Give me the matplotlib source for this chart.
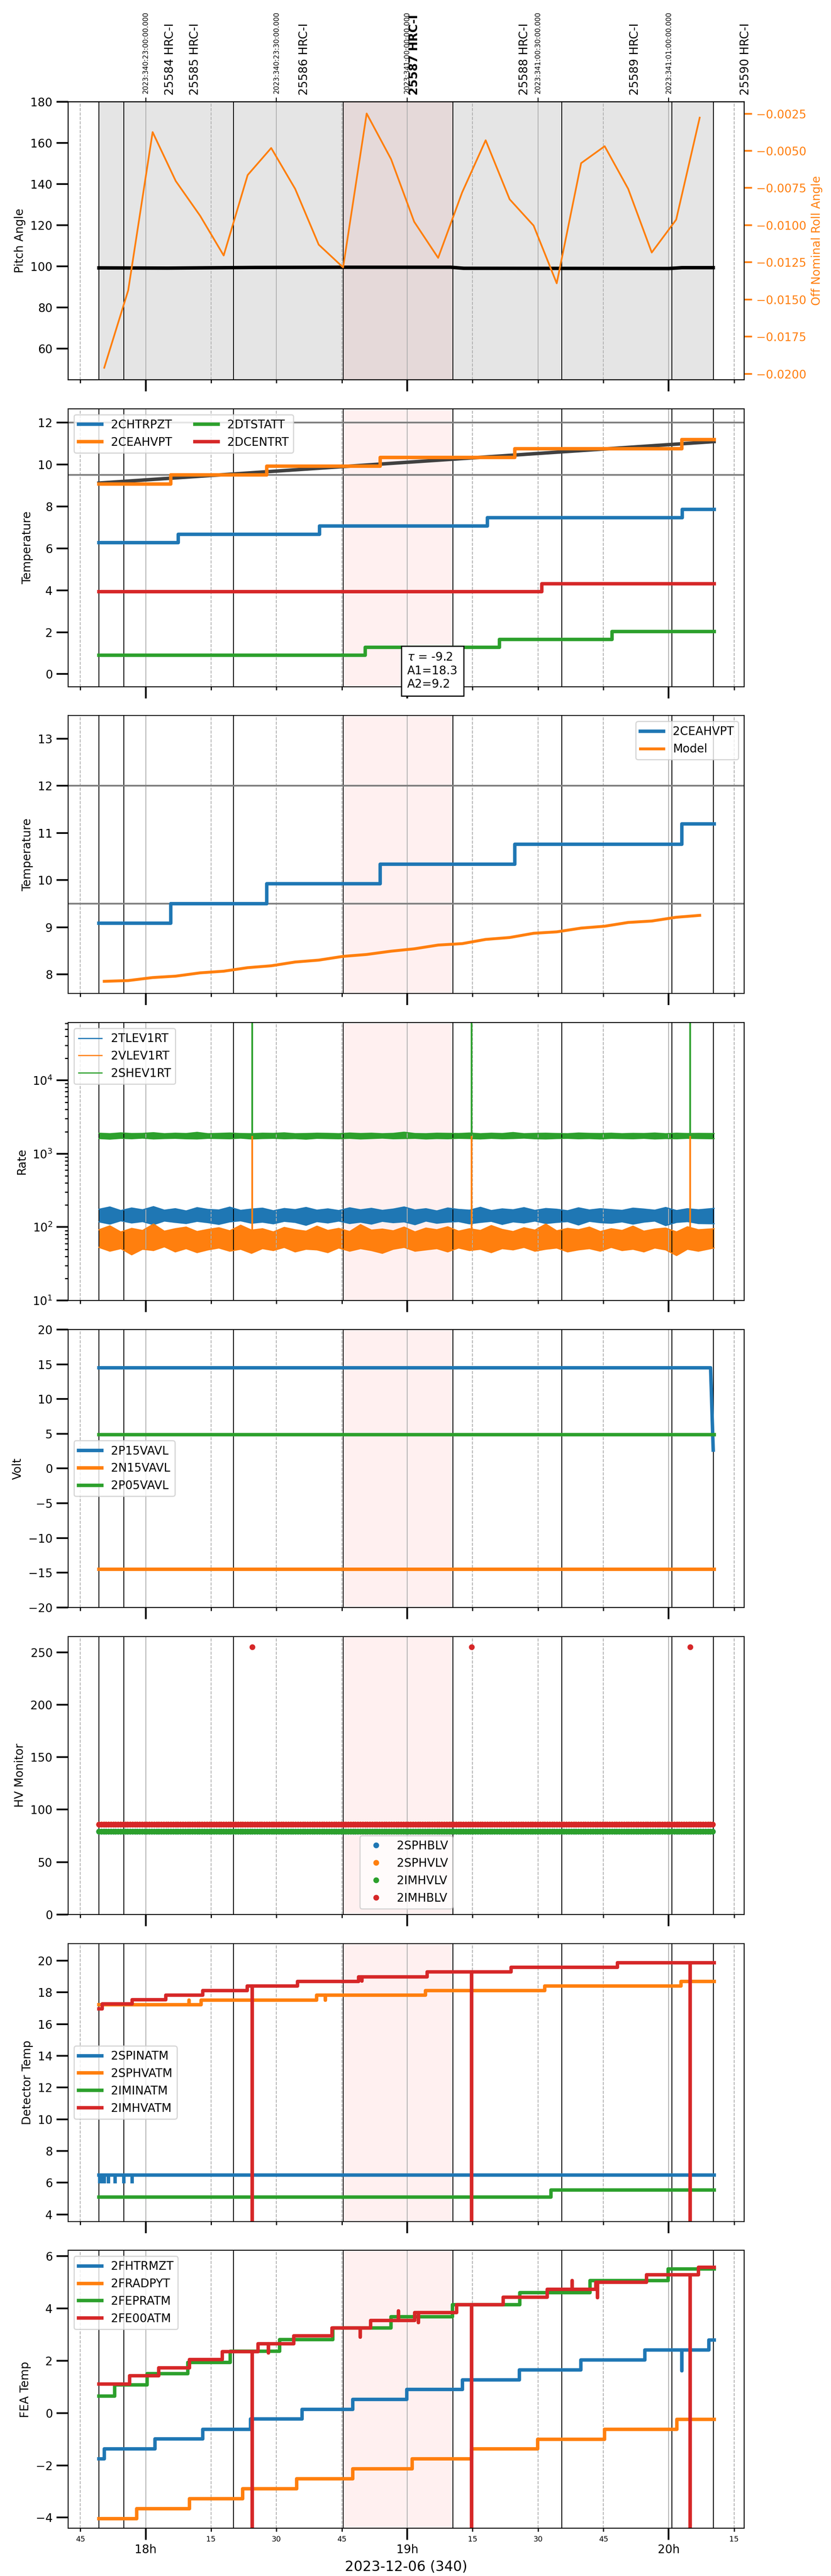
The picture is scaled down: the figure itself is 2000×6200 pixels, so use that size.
import numpy as np
import matplotlib.pyplot as plt
import matplotlib.dates as mdates
from matplotlib.ticker import MultipleLocator

# time is given in minutes after 2023-12-06 18:00 (local)
T0 = mdates.date2num(np.datetime64('2023-12-06T18:00:00'))


def tx(minutes):
    return T0 + np.asarray(minutes, dtype=float) / 1440.0


t_first, t_last = -10.72, 130.4

# observations
obs_edges = [-10.72, -5.0, 20.16, 45.3, 70.5, 95.5, 120.7, 130.2]
obsids = ['25584', '25585', '25586', '25587', '25588', '25589', '25590']
obs_label_t = [5.6, 11.25, 36.4, 61.6, 86.9, 112.2, 137.6]
current_obs = '25587'
utc_tick_t = [0, 30, 60, 90, 120]
utc_tick_labels = ['2023:340:23:00:00.000', '2023:340:23:30:00.000',
                   '2023:341:00:00:00.000', '2023:341:00:30:00.000',
                   '2023:341:01:00:00.000']

# pitch / roll
pitch_t = [-10.72, 5, 25, 45, 70, 73, 120, 123, 130.2]
pitch = [99.3, 99.2, 99.5, 99.6, 99.6, 99.1, 99.0, 99.4, 99.4]
samp_t = [-9.5, -4.0, 1.6, 6.9, 12.5, 17.9, 23.4, 28.8, 34.3, 39.7, 45.3, 50.7, 56.3,
          61.6, 67.1, 72.6, 78.0, 83.5, 89.0, 94.3, 99.9, 105.3, 110.7, 116.1, 121.7, 127.1]
roll = [-0.01959, -0.01438, -0.00374, -0.00703, -0.00937, -0.01204, -0.00663, -0.00481,
        -0.00756, -0.01131, -0.01284, -0.00249, -0.00556, -0.00977, -0.0122, -0.0078,
        -0.00429, -0.00826, -0.01003, -0.01391, -0.00583, -0.00469, -0.00756, -0.01184,
        -0.00963, -0.00277]

# temperatures (step changes)
chtrpzt_chg = [7.51, 39.85, 78.40, 123.1]
chtrpzt_lvl = [6.27, 6.67, 7.07, 7.47, 7.87]
ceahvpt_chg = [5.81, 27.75, 53.83, 84.65, 123.0]
ceahvpt_lvl = [9.08, 9.5, 9.92, 10.34, 10.76, 11.19]
dtstatt_chg = [50.4, 81.2, 107.0]
dtstatt_lvl = [0.9, 1.28, 1.66, 2.03]
dcentrt_chg = [90.9]
dcentrt_lvl = [3.93, 4.31]
fit_t = [-10.72, 130.4]
fit_v = [9.12, 11.1]
fit_text = '$\\tau$ = -9.2\nA1=18.3\nA2=9.2'
model = [7.85, 7.866, 7.93, 7.96, 8.03, 8.065, 8.14, 8.18, 8.26, 8.30, 8.38, 8.42, 8.49,
         8.54, 8.62, 8.65, 8.74, 8.78, 8.87, 8.90, 8.98, 9.02, 9.10, 9.13, 9.21, 9.25]

# rates (envelope of the noisy traces)
rate_t = [-10.72, -8.2, -5.7, -3.2, -0.7, 1.8, 4.3, 6.8, 9.3, 11.8,
          14.3, 16.8, 19.3, 21.8, 24.3, 26.8, 29.3, 31.8, 34.3, 36.8,
          39.3, 41.8, 44.3, 46.8, 49.3, 51.8, 54.3, 56.8, 59.3, 61.8,
          64.3, 66.8, 69.3, 71.8, 74.3, 76.8, 79.3, 81.8, 84.3, 86.8,
          89.3, 91.8, 94.3, 96.8, 99.3, 101.8, 104.3, 106.8, 109.3, 111.8,
          114.3, 116.8, 119.3, 121.8, 124.3, 126.8, 130.4]
tlev_hi = [175, 188, 168, 182, 172, 190, 170, 178, 166, 184,
           174, 171, 187, 169, 176, 181, 167, 179, 173, 185,
           170, 177, 168, 183, 172, 180, 169, 176, 188, 171,
           178, 166, 182, 174, 170, 186, 168, 177, 172, 184,
           169, 179, 175, 167, 183, 171, 178, 173, 169, 181,
           176, 170, 185, 168, 178, 172, 180]
tlev_lo = [118, 110, 122, 114, 119, 108, 121, 116, 112, 120,
           115, 109, 118, 122, 113, 117, 111, 120, 116, 106,
           119, 114, 121, 112, 117, 110, 120, 115, 118, 108,
           121, 113, 117, 119, 111, 116, 120, 109, 118, 114,
           121, 112, 116, 119, 107, 120, 115, 113, 118, 110,
           117, 121, 105, 116, 119, 112, 111]
vlev_hi = [92, 104, 86, 96, 90, 110, 88, 95, 100, 87,
           93, 98, 89, 106, 91, 95, 86, 99, 92, 88,
           103, 90, 96, 87, 108, 91, 94, 89, 100, 86,
           97, 92, 101, 88, 95, 90, 105, 93, 87, 98,
           91, 110, 89, 96, 92, 100, 87, 95, 90, 103,
           88, 94, 97, 86, 101, 92, 95]
vlev_lo = [53, 47, 51, 42, 50, 48, 54, 46, 51, 45,
           49, 52, 47, 50, 44, 51, 48, 53, 46, 50,
           49, 45, 52, 47, 51, 48, 44, 50, 53, 47,
           49, 51, 46, 52, 48, 50, 45, 51, 49, 53,
           47, 50, 52, 46, 49, 51, 47, 53, 48, 50,
           46, 52, 49, 41, 50, 47, 52]
shev_hi = [1900, 1870, 1920, 1880, 1890, 1930, 1870, 1900, 1880, 1950,
           1870, 1890, 1910, 1880, 1870, 1900, 1890, 1920, 1870, 1880,
           1900, 1890, 1870, 1910, 1880, 1900, 1870, 1890, 1960, 1880,
           1870, 1900, 1890, 1880, 1910, 1870, 1900, 1880, 1940, 1870,
           1890, 1900, 1880, 1870, 1910, 1890, 1880, 1900, 1870, 1890,
           1880, 1910, 1870, 1900, 1880, 1890, 1880]
shev_lo = [1610, 1580, 1620, 1600, 1630, 1590, 1610, 1620, 1600, 1590,
           1620, 1610, 1600, 1630, 1590, 1610, 1620, 1600, 1610, 1580,
           1620, 1610, 1600, 1620, 1590, 1610, 1630, 1600, 1610, 1620,
           1590, 1610, 1600, 1620, 1610, 1590, 1620, 1600, 1610, 1630,
           1600, 1590, 1610, 1620, 1600, 1610, 1590, 1620, 1610, 1600,
           1620, 1590, 1610, 1600, 1620, 1610, 1600]
spike_t = [24.41, 74.75, 124.95]

# voltages
p15_t = [-10.72, 129.6, 130.2]
p15 = [14.5, 14.5, 2.65]
n15 = -14.5
p05 = 4.85

# HV monitors
hv_levels = {'2SPHBLV': 79, '2SPHVLV': 86, '2IMHVLV': 79, '2IMHBLV': 86}
hv_bad = 255

# detector temps
spinatm_lvl = [6.48]
spinatm_dips = [-10.5, -10.0, -9.5, -8.5, -7.0, -5.0, -3.1]
spinatm_dip_v = 5.96
sphvatm_chg = [12.74, 39.25, 64.17, 91.52, 122.8]
sphvatm_lvl = [17.22, 17.52, 17.81, 18.1, 18.4, 18.69]
sphvatm_glitch = [(9.95, 17.5), (41.19, 17.5)]
iminatm_chg = [92.98]
iminatm_lvl = [5.08, 5.55]
imhvatm_chg = [-9.99, -3.06, 4.60, 13.11, 23.32, 34.87, 48.85, 64.54, 83.87, 108.2]
imhvatm_lvl = [16.97, 17.26, 17.54, 17.83, 18.1, 18.4, 18.69, 18.98, 19.28, 19.57, 19.87]
imhvatm_glitch = [(49.58, 18.7)] + [(s, -10) for s in spike_t]

# FEA temps
fhtrmzt_chg = [-9.5, 2.16, 13.11, 24.05, 35.84, 47.5, 59.9, 72.68, 85.7, 99.8, 114.5, 129.2]
fhtrmzt_lvl = [-1.75, -1.38, -0.99, -0.62, -0.23, 0.14, 0.52, 0.89, 1.27, 1.65, 2.02, 2.4, 2.78]
fhtrmzt_glitch = [(123.0, 1.62)]
fradpyt_chg = [-2.1, 10.07, 22.23, 34.63, 47.5, 61.12, 74.75, 89.94, 105.3, 121.9]
fradpyt_lvl = [-4.04, -3.66, -3.28, -2.9, -2.52, -2.14, -1.76, -1.38, -1.0, -0.62, -0.24]
fepratm_chg = [-7.07, 0.34, 9.7, 19.43, 30.73, 42.9, 56.26, 70.37, 85.8, 101.98, 119.85]
fepratm_lvl = [0.645, 1.07, 1.5, 1.93, 2.36, 2.8, 3.24, 3.68, 4.14, 4.59, 5.06, 5.5]
fe00atm_chg = [-3.67, 3.02, 10.07, 17.6, 25.75, 34.0, 42.77, 51.65, 61.73, 71.34, 82.04,
               92.13, 103.3, 114.9, 126.8]
fe00atm_lvl = [1.11, 1.42, 1.73, 2.04, 2.34, 2.64, 2.95, 3.24, 3.53, 3.84, 4.13, 4.42,
               4.72, 5.0, 5.28, 5.57]
fe00atm_glitch = [(28.18, 2.3), (49.2, 2.9), (57.97, 3.9), (62.6, 3.45), (97.84, 5.05),
                  (103.7, 4.4)] + [(s, -20) for s in spike_t]


def steps(changes, levels, glitches=()):
    x, y = [t_first], [levels[0]]
    for c, lo, hi in zip(changes, levels[:-1], levels[1:]):
        x += [c, c]
        y += [lo, hi]
    x.append(t_last)
    y.append(levels[-1])
    for gt, gv in glitches:
        lvl = levels[np.searchsorted(changes, gt)]
        i = int(np.searchsorted(x, gt, side='right'))
        x[i:i] = [gt, gt, gt]
        y[i:i] = [lvl, gv, lvl]
    return tx(x), np.array(y)


fig, axes = plt.subplots(8, 1, figsize=(10, 31), sharex=True)
fig.subplots_adjust(left=0.082, right=0.8955, top=0.9605, bottom=0.0185, hspace=0.1045)
ax1, ax2, ax3, ax4, ax5, ax6, ax7, ax8 = axes

for ax in axes:
    ax.axvspan(tx(obs_edges[3]), tx(obs_edges[4]), color='red', alpha=0.06, lw=0)
    for e in obs_edges:
        ax.axvline(tx(e), color='black', lw=0.72)
    ax.tick_params(which='major', length=10, width=1.5)
    ax.tick_params(which='minor', length=3, width=1)

# --- pitch / roll
ax1.axvspan(tx(obs_edges[0]), tx(obs_edges[-1]), color='grey', alpha=0.2, lw=0)
for u in utc_tick_t:
    ax1.axvline(tx(u), color='#b0b0b0', lw=0.72, zorder=1.5)
ax1.plot(tx(pitch_t), pitch, color='black', lw=3)
ax1.set_ylim(45, 180)
ax1.yaxis.set_major_locator(MultipleLocator(20))
ax1.set_ylabel('Pitch Angle')
ax1r = ax1.twinx()
ax1r.plot(tx(samp_t), roll, color='tab:orange', lw=1.5)
ax1r.set_ylim(-0.02039, -0.0017)
ax1r.yaxis.set_major_locator(MultipleLocator(0.0025))
ax1r.tick_params(axis='y', colors='tab:orange', length=7, width=1.5)
ax1r.set_ylabel('Off Nominal Roll Angle', color='tab:orange')

top = ax1.secondary_xaxis('top')
top.set_xticks(tx(utc_tick_t), utc_tick_labels)
top.tick_params(labelsize=6, rotation=90, length=3.5)
for ob, lt in zip(obsids, obs_label_t):
    ax1.text(tx(lt), 1.024, f'{ob} HRC-I', transform=ax1.get_xaxis_transform(),
             rotation=90, ha='center', va='bottom', fontsize=10,
             fontweight='bold' if ob == current_obs else 'normal')

# --- temperatures
ax2.axhline(12, color='grey', lw=1.5)
ax2.axhline(9.5, color='grey', lw=1.5)
ax2.plot(tx(fit_t), fit_v, color='0.25', lw=3)
ax2.plot(*steps(chtrpzt_chg, chtrpzt_lvl), color='C0', lw=3, label='2CHTRPZT')
ax2.plot(*steps(ceahvpt_chg, ceahvpt_lvl), color='C1', lw=3, label='2CEAHVPT')
ax2.plot(*steps(dtstatt_chg, dtstatt_lvl), color='C2', lw=3, label='2DTSTATT')
ax2.plot(*steps(dcentrt_chg, dcentrt_lvl), color='C3', lw=3, label='2DCENTRT')
ax2.text(tx(60.0), 1.07, fit_text, ha='left', va='top', fontsize=10, zorder=10,
         bbox=dict(boxstyle='square,pad=0.5', fc='white', ec='black'))
ax2.set_ylim(-0.6, 12.67)
ax2.yaxis.set_major_locator(MultipleLocator(2))
ax2.set_ylabel('Temperature')
ax2.legend(loc='upper left', ncol=2)

ax3.axhline(12, color='grey', lw=1.5)
ax3.axhline(9.5, color='grey', lw=1.5)
ax3.plot(*steps(ceahvpt_chg, ceahvpt_lvl), color='C0', lw=3, label='2CEAHVPT')
ax3.plot(tx(samp_t), model, color='C1', lw=2.5, label='Model')
ax3.set_ylim(7.59, 13.49)
ax3.yaxis.set_major_locator(MultipleLocator(1))
ax3.set_ylabel('Temperature')
ax3.legend(loc='upper right')

# --- rates
for hi, lo, c, name in [(tlev_hi, tlev_lo, 'C0', '2TLEV1RT'),
                        (vlev_hi, vlev_lo, 'C1', '2VLEV1RT'),
                        (shev_hi, shev_lo, 'C2', '2SHEV1RT')]:
    ax4.plot(tx(rate_t), hi, color=c, lw=1, label=name)
    ax4.plot(tx(rate_t), lo, color=c, lw=1)
    ax4.fill_between(tx(rate_t), lo, hi, color=c, lw=0)
ax4.vlines(tx(spike_t), 70, 1750, color='C1', lw=1.5)
ax4.vlines(tx(spike_t), 1750, 1e6, color='C2', lw=1.5)
ax4.set_yscale('log')
ax4.set_ylim(10, 6.1e4)
ax4.set_ylabel('Rate')
ax4.legend(loc='upper left')

# --- voltages
ax5.plot(tx(p15_t), p15, color='C0', lw=3, label='2P15VAVL')
ax5.plot(tx([t_first, t_last]), [n15, n15], color='C1', lw=3, label='2N15VAVL')
ax5.plot(tx([t_first, t_last]), [p05, p05], color='C2', lw=3, label='2P05VAVL')
ax5.set_ylim(-20, 20)
ax5.yaxis.set_major_locator(MultipleLocator(5))
ax5.set_ylabel('Volt')
ax5.legend(loc='center left')

# --- HV monitors
hv_t = np.arange(t_first, t_last, 0.55)
for (name, lvl), c in zip(hv_levels.items(), ['C0', 'C1', 'C2', 'C3']):
    tt = list(hv_t)
    vv = [lvl] * len(tt)
    if name == '2IMHBLV':
        tt += spike_t
        vv += [hv_bad] * len(spike_t)
    ax6.plot(tx(tt), vv, '.', color=c, ms=8, label=name)
ax6.set_ylim(0, 265)
ax6.yaxis.set_major_locator(MultipleLocator(50))
ax6.set_ylabel('HV Monitor')
ax6.legend(loc='lower center')

# --- detector temps
x, y = steps([], spinatm_lvl)
ax7.plot(x, y, color='C0', lw=3, label='2SPINATM')
ax7.vlines(tx(spinatm_dips), spinatm_dip_v, spinatm_lvl[0], color='C0', lw=3)
ax7.plot(*steps(sphvatm_chg, sphvatm_lvl, sphvatm_glitch), color='C1', lw=3, label='2SPHVATM')
ax7.plot(*steps(iminatm_chg, iminatm_lvl), color='C2', lw=3, label='2IMINATM')
ax7.plot(*steps(imhvatm_chg, imhvatm_lvl, imhvatm_glitch), color='C3', lw=3, label='2IMHVATM')
ax7.set_ylim(3.56, 21.08)
ax7.yaxis.set_major_locator(MultipleLocator(2))
ax7.set_ylabel('Detector Temp')
ax7.legend(loc='center left')

# --- FEA temps
ax8.plot(*steps(fhtrmzt_chg, fhtrmzt_lvl, fhtrmzt_glitch), color='C0', lw=3, label='2FHTRMZT')
ax8.plot(*steps(fradpyt_chg, fradpyt_lvl), color='C1', lw=3, label='2FRADPYT')
ax8.plot(*steps(fepratm_chg, fepratm_lvl), color='C2', lw=3, label='2FEPRATM')
ax8.plot(*steps(fe00atm_chg, fe00atm_lvl, fe00atm_glitch), color='C3', lw=3, label='2FE00ATM')
ax8.set_ylim(-4.41, 6.21)
ax8.yaxis.set_major_locator(MultipleLocator(2))
ax8.set_ylabel('FEA Temp')
ax8.legend(loc='upper left')

# shared time axis
ax8.xaxis.set_major_locator(mdates.HourLocator())
ax8.xaxis.set_major_formatter(mdates.DateFormatter('%Hh'))
ax8.xaxis.set_minor_locator(mdates.MinuteLocator(byminute=[15, 30, 45]))
ax8.xaxis.set_minor_formatter(mdates.DateFormatter('%M'))
ax8.tick_params(axis='x', which='minor', labelsize=6.5)
ax8.set_xlim(tx(-17.78), tx(137.3))
ax8.set_xlabel('2023-12-06 (340)', fontsize=12)
for ax in axes:
    ax.grid(True, which='major', axis='x', color='#b0b0b0', lw=0.72)
    ax.grid(True, which='minor', axis='x', color='#b0b0b0', lw=0.72, ls='--')

fig.savefig('out.png', dpi=200)
